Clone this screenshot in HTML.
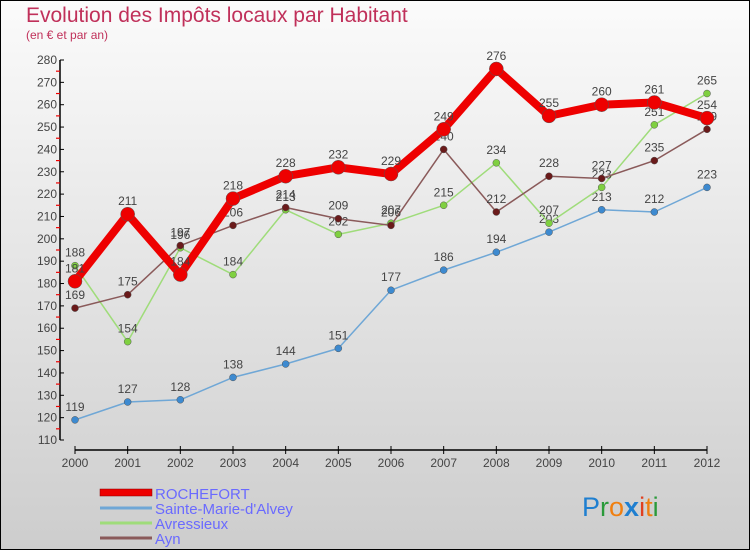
<!DOCTYPE html>
<html><head><meta charset="utf-8"><style>
body{margin:0;width:750px;height:550px;overflow:hidden;font-family:"Liberation Sans",sans-serif}
svg text{font-family:"Liberation Sans",sans-serif}
</style></head><body>
<svg id="c" width="750" height="550" viewBox="0 0 750 550">
<defs><linearGradient id="bg" x1="0" y1="0" x2="0" y2="1"><stop offset="0" stop-color="#fbfbfb"/><stop offset="1" stop-color="#cdcdcd"/></linearGradient></defs>
<rect x="0.5" y="0.5" width="749" height="549" fill="url(#bg)" stroke="#000"/>
<text x="26" y="22" font-size="21" fill="#c0305a">Evolution des Impôts locaux par Habitant</text>
<text x="26" y="39" font-size="12" fill="#c0305a">(en € et par an)</text>
<g id="axes"></g><g id="series"></g>
<g>
<rect x="100" y="489" width="52" height="7" fill="#e00" stroke="#800" stroke-width="0.5"/>
<text x="155" y="499" font-size="15" fill="#6a6aff">ROCHEFORT</text>
<line x1="100" y1="508" x2="152" y2="508" stroke="#6fa7d6" stroke-width="3"/>
<text x="155" y="514" font-size="15" fill="#6a6aff">Sainte-Marie-d'Alvey</text>
<line x1="100" y1="523" x2="152" y2="523" stroke="#9fdc7a" stroke-width="3"/>
<text x="155" y="529" font-size="15" fill="#6a6aff">Avressieux</text>
<line x1="100" y1="538" x2="152" y2="538" stroke="#8a5a5a" stroke-width="3"/>
<text x="155" y="544" font-size="15" fill="#6a6aff">Ayn</text>
</g>
<text x="582" y="516" font-size="27"><tspan fill="#1f7fd0">P</tspan><tspan fill="#2a9a3a">r</tspan><tspan fill="#f07f10">o</tspan><tspan fill="#1f7fd0" font-weight="bold">x</tspan><tspan fill="#e04020">i</tspan><tspan fill="#f07f10">t</tspan><tspan fill="#2a9a3a">i</tspan></text>
</svg>
<script>
const years=[2000,2001,2002,2003,2004,2005,2006,2007,2008,2009,2010,2011,2012];
const yTicks=[110,120,130,140,150,160,170,180,190,200,210,220,230,240,250,260,270,280];
const rochefort=[181,211,184,218,228,232,229,249,276,255,260,261,254];
const sainteMarie=[119,127,128,138,144,151,177,186,194,203,213,212,223];
const avressieux=[188,154,196,184,213,202,207,215,234,207,223,251,265];
const ayn=[169,175,197,206,214,209,206,240,212,228,227,235,249];
const NS='http://www.w3.org/2000/svg';
const xS=i=>75+i*(707-75)/(years.length-1);
const yS=v=>440-(v-110)*(380/170);
function mk(t,a,p){const e=document.createElementNS(NS,t);for(const k in a)e.setAttribute(k,a[k]);p.appendChild(e);return e;}
const ax=document.getElementById('axes');
const yl=mk('line',{x1:60,y1:60,x2:60,y2:440,stroke:'#000','stroke-width':1.5},ax);


const xl=mk('line',{x1:75,y1:450,x2:707,y2:450,stroke:'#000','stroke-width':1.5},ax);


const half=(380/17)/2;
yTicks.forEach((v,i)=>{const y=yS(v);
mk('line',{x1:60,y1:y,x2:64,y2:y,stroke:'#000'},ax);
if(i<yTicks.length-1)mk('line',{x1:56,y1:y-half,x2:60,y2:y-half,stroke:'#e00','stroke-width':1.2},ax);
const t=mk('text',{x:57,y:y+4,'font-size':12,'text-anchor':'end',fill:'#444'},ax);t.textContent=v;

});
years.forEach((yr,i)=>{const x=xS(i);
mk('line',{x1:x,y1:446,x2:x,y2:454,stroke:'#000'},ax);
const t=mk('text',{x:x,y:467,'font-size':12,'text-anchor':'middle',fill:'#444'},ax);t.textContent=yr;

});
const sg=document.getElementById('series');
function draw(data,name,color,w,r,dot){
const g=mk('g',{},sg);


const pl=mk('polyline',{points:data.map((v,i)=>xS(i)+','+yS(v)).join(' '),fill:'none',stroke:color,'stroke-width':w,'stroke-linejoin':'round'},g);


data.forEach((v,i)=>{const c=mk('circle',{cx:xS(i),cy:yS(v),r:r,fill:dot,stroke:'#555','stroke-width':0.5},g);


const t=mk('text',{x:xS(i),y:yS(v)-9,'font-size':12,'text-anchor':'middle',fill:'#444'},g);t.textContent=v;

});}
draw(sainteMarie,'sainte-marie','#6fa7d6',1.5,3.5,'#3d8ad0');
draw(avressieux,'avressieux','#9fdc7a',1.5,3.5,'#7fd040');
draw(ayn,'ayn','#8a5a5a',1.5,3.5,'#6a1a1a');
draw(rochefort,'rochefort','#ee0000',8,7,'#ee0000');
</script>
</body></html>
